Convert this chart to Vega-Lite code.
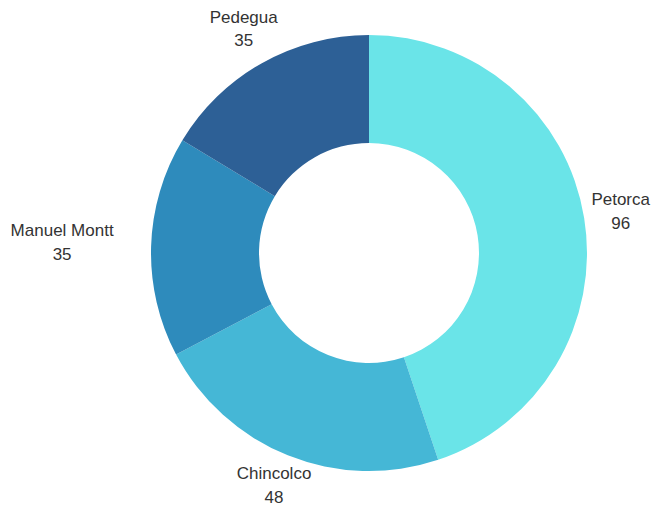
{
  "$schema": "https://vega.github.io/schema/vega-lite/v6.json",
  "autosize": "none",
  "width": 582,
  "height": 506,
  "padding": {"left": 78, "top": 0, "right": 0, "bottom": 2},
  "background": "white",
  "config": {"view": {"stroke": null}},
  "data": {"values": [
    {"name": "Petorca", "value": 96},
    {"name": "Chincolco", "value": 48},
    {"name": "Manuel Montt", "value": 35},
    {"name": "Pedegua", "value": 35}
  ]},
  "encoding": {
    "theta": {"field": "value", "type": "quantitative", "stack": true},
    "order": {"field": "value", "type": "quantitative", "sort": "descending"}
  },
  "layer": [
    {
      "mark": {"type": "arc", "outerRadius": 218, "innerRadius": 110},
      "encoding": {
        "color": {"field": "name", "type": "nominal", "legend": null,
          "scale": {"domain": ["Petorca", "Chincolco", "Manuel Montt", "Pedegua"],
                    "range": ["#6ae4e8", "#45b7d6", "#2e8bbc", "#2d6096"]}}
      }
    },
    {
      "mark": {"type": "text", "radius": 255, "dy": -12, "font": "Liberation Sans", "fontSize": 17, "fill": "#333333", "align": "center", "baseline": "middle"},
      "encoding": {
        "text": {"field": "name"},
        "opacity": {"condition": {"test": "datum.name === 'Petorca'", "value": 1}, "value": 0}
      }
    },
    {
      "mark": {"type": "text", "radius": 255, "dy": 12, "font": "Liberation Sans", "fontSize": 17, "fill": "#333333", "align": "center", "baseline": "middle"},
      "encoding": {
        "text": {"field": "value", "type": "quantitative"},
        "opacity": {"condition": {"test": "datum.name === 'Petorca'", "value": 1}, "value": 0}
      }
    },
    {
      "mark": {"type": "text", "radius": 255, "dy": -13, "font": "Liberation Sans", "fontSize": 17, "fill": "#333333", "align": "center", "baseline": "middle"},
      "encoding": {
        "text": {"field": "name"},
        "opacity": {"condition": {"test": "datum.name === 'Pedegua'", "value": 1}, "value": 0}
      }
    },
    {
      "mark": {"type": "text", "radius": 255, "dy": 10, "font": "Liberation Sans", "fontSize": 17, "fill": "#333333", "align": "center", "baseline": "middle"},
      "encoding": {
        "text": {"field": "value", "type": "quantitative"},
        "opacity": {"condition": {"test": "datum.name === 'Pedegua'", "value": 1}, "value": 0}
      }
    },
    {
      "mark": {"type": "text", "radius": 255, "dy": -16, "font": "Liberation Sans", "fontSize": 17, "fill": "#333333", "align": "center", "baseline": "middle"},
      "encoding": {
        "text": {"field": "name"},
        "opacity": {"condition": {"test": "datum.name === 'Chincolco'", "value": 1}, "value": 0}
      }
    },
    {
      "mark": {"type": "text", "radius": 255, "dy": 8, "font": "Liberation Sans", "fontSize": 17, "fill": "#333333", "align": "center", "baseline": "middle"},
      "encoding": {
        "text": {"field": "value", "type": "quantitative"},
        "opacity": {"condition": {"test": "datum.name === 'Chincolco'", "value": 1}, "value": 0}
      }
    },
    {
      "mark": {"type": "text", "radius": 255, "dx": -52, "dy": -15, "font": "Liberation Sans", "fontSize": 17, "fill": "#333333", "align": "center", "baseline": "middle"},
      "encoding": {
        "text": {"field": "name"},
        "opacity": {"condition": {"test": "datum.name === 'Manuel Montt'", "value": 1}, "value": 0}
      }
    },
    {
      "mark": {"type": "text", "radius": 255, "dx": -52, "dy": 9, "font": "Liberation Sans", "fontSize": 17, "fill": "#333333", "align": "center", "baseline": "middle"},
      "encoding": {
        "text": {"field": "value", "type": "quantitative"},
        "opacity": {"condition": {"test": "datum.name === 'Manuel Montt'", "value": 1}, "value": 0}
      }
    }
  ]
}
